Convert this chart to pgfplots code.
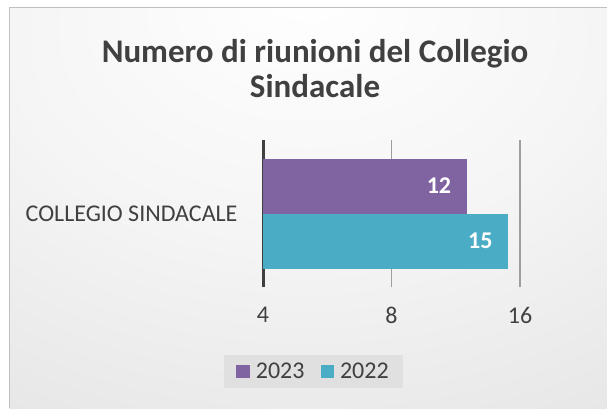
\documentclass[border=0pt]{standalone}
\usepackage{fontspec}
\setmainfont{Carlito}
\usepackage{pgfplots}
\pgfplotsset{compat=1.18}
\definecolor{txt}{RGB}{64,64,64}
\definecolor{violet23}{RGB}{128,100,162}
\definecolor{teal22}{RGB}{75,172,198}
\pgfdeclareradialshading{chartbg}{\pgfpoint{0bp}{28bp}}{color(0bp)=(white); color(25bp)=(white!96!black); color(70bp)=(white!85!black); color(100bp)=(white!83!black)}

\begin{document}
\begin{tikzpicture}[x=1pt,y=1pt]
\useasboundingbox (0,0) rectangle (607,408);
\fill[white] (0,0) rectangle (607,408);
\shade[shading=chartbg] (9,0) rectangle (607,400);
\draw[white!75!black, line width=1pt] (9,0) -- (9,400) -- (607,400);

\node[font=\fontsize{33}{35}\selectfont\bfseries, text=txt, align=center] at (315,339)
  {Numero di riunioni del Collegio\\Sindacale};

\begin{axis}[
    at={(263pt,121pt)}, anchor=south west,
    scale only axis,
    width=257pt, height=147pt,
    xbar,
    xmode=log, log basis x=2,
    xmin=4, xmax=16,
    ymin=-1, ymax=1,
    xtick={4,8,16},
    xticklabels={4,8,16},
    ytick={0},
    yticklabels={COLLEGIO SINDACALE},
    major tick length=0pt,
    axis lines*=left,
    x axis line style={draw=none},
    y axis line style={draw=txt, line width=3pt},
    xmajorgrids,
    grid style={white!62!black, line width=1.5pt},
    tick label style={font=\fontsize{24}{28}\selectfont, text=txt},
    xticklabel style={yshift=-17pt},
    yticklabel style={xshift=-22pt},
    bar width=55pt,
    nodes near coords,
    point meta=explicit symbolic,
    nodes near coords style={anchor=east, xshift=-12pt, text=white,
        font=\fontsize{24}{28}\selectfont\bfseries},
    legend style={at={(0.1965,-0.575)}, anchor=center, legend columns=2,
        draw=none, fill=white!88!black, font=\fontsize{24}{28}\selectfont,
        text=txt, inner xsep=12pt, inner ysep=6pt,
        /tikz/every odd column/.append style={column sep=4pt},
        /tikz/every even column/.append style={column sep=14pt}},
    legend image code/.code={\fill[#1] (0pt,-6.5pt) rectangle (13.5pt,7pt);},
]
\addplot[fill=violet23, draw=none, bar shift=27.5pt] coordinates {(12,0) [12]};
\addplot[fill=teal22, draw=none, bar shift=-27.5pt] coordinates {(15,0) [15]};
\legend{2023,2022}
\end{axis}
\end{tikzpicture}
\end{document}
